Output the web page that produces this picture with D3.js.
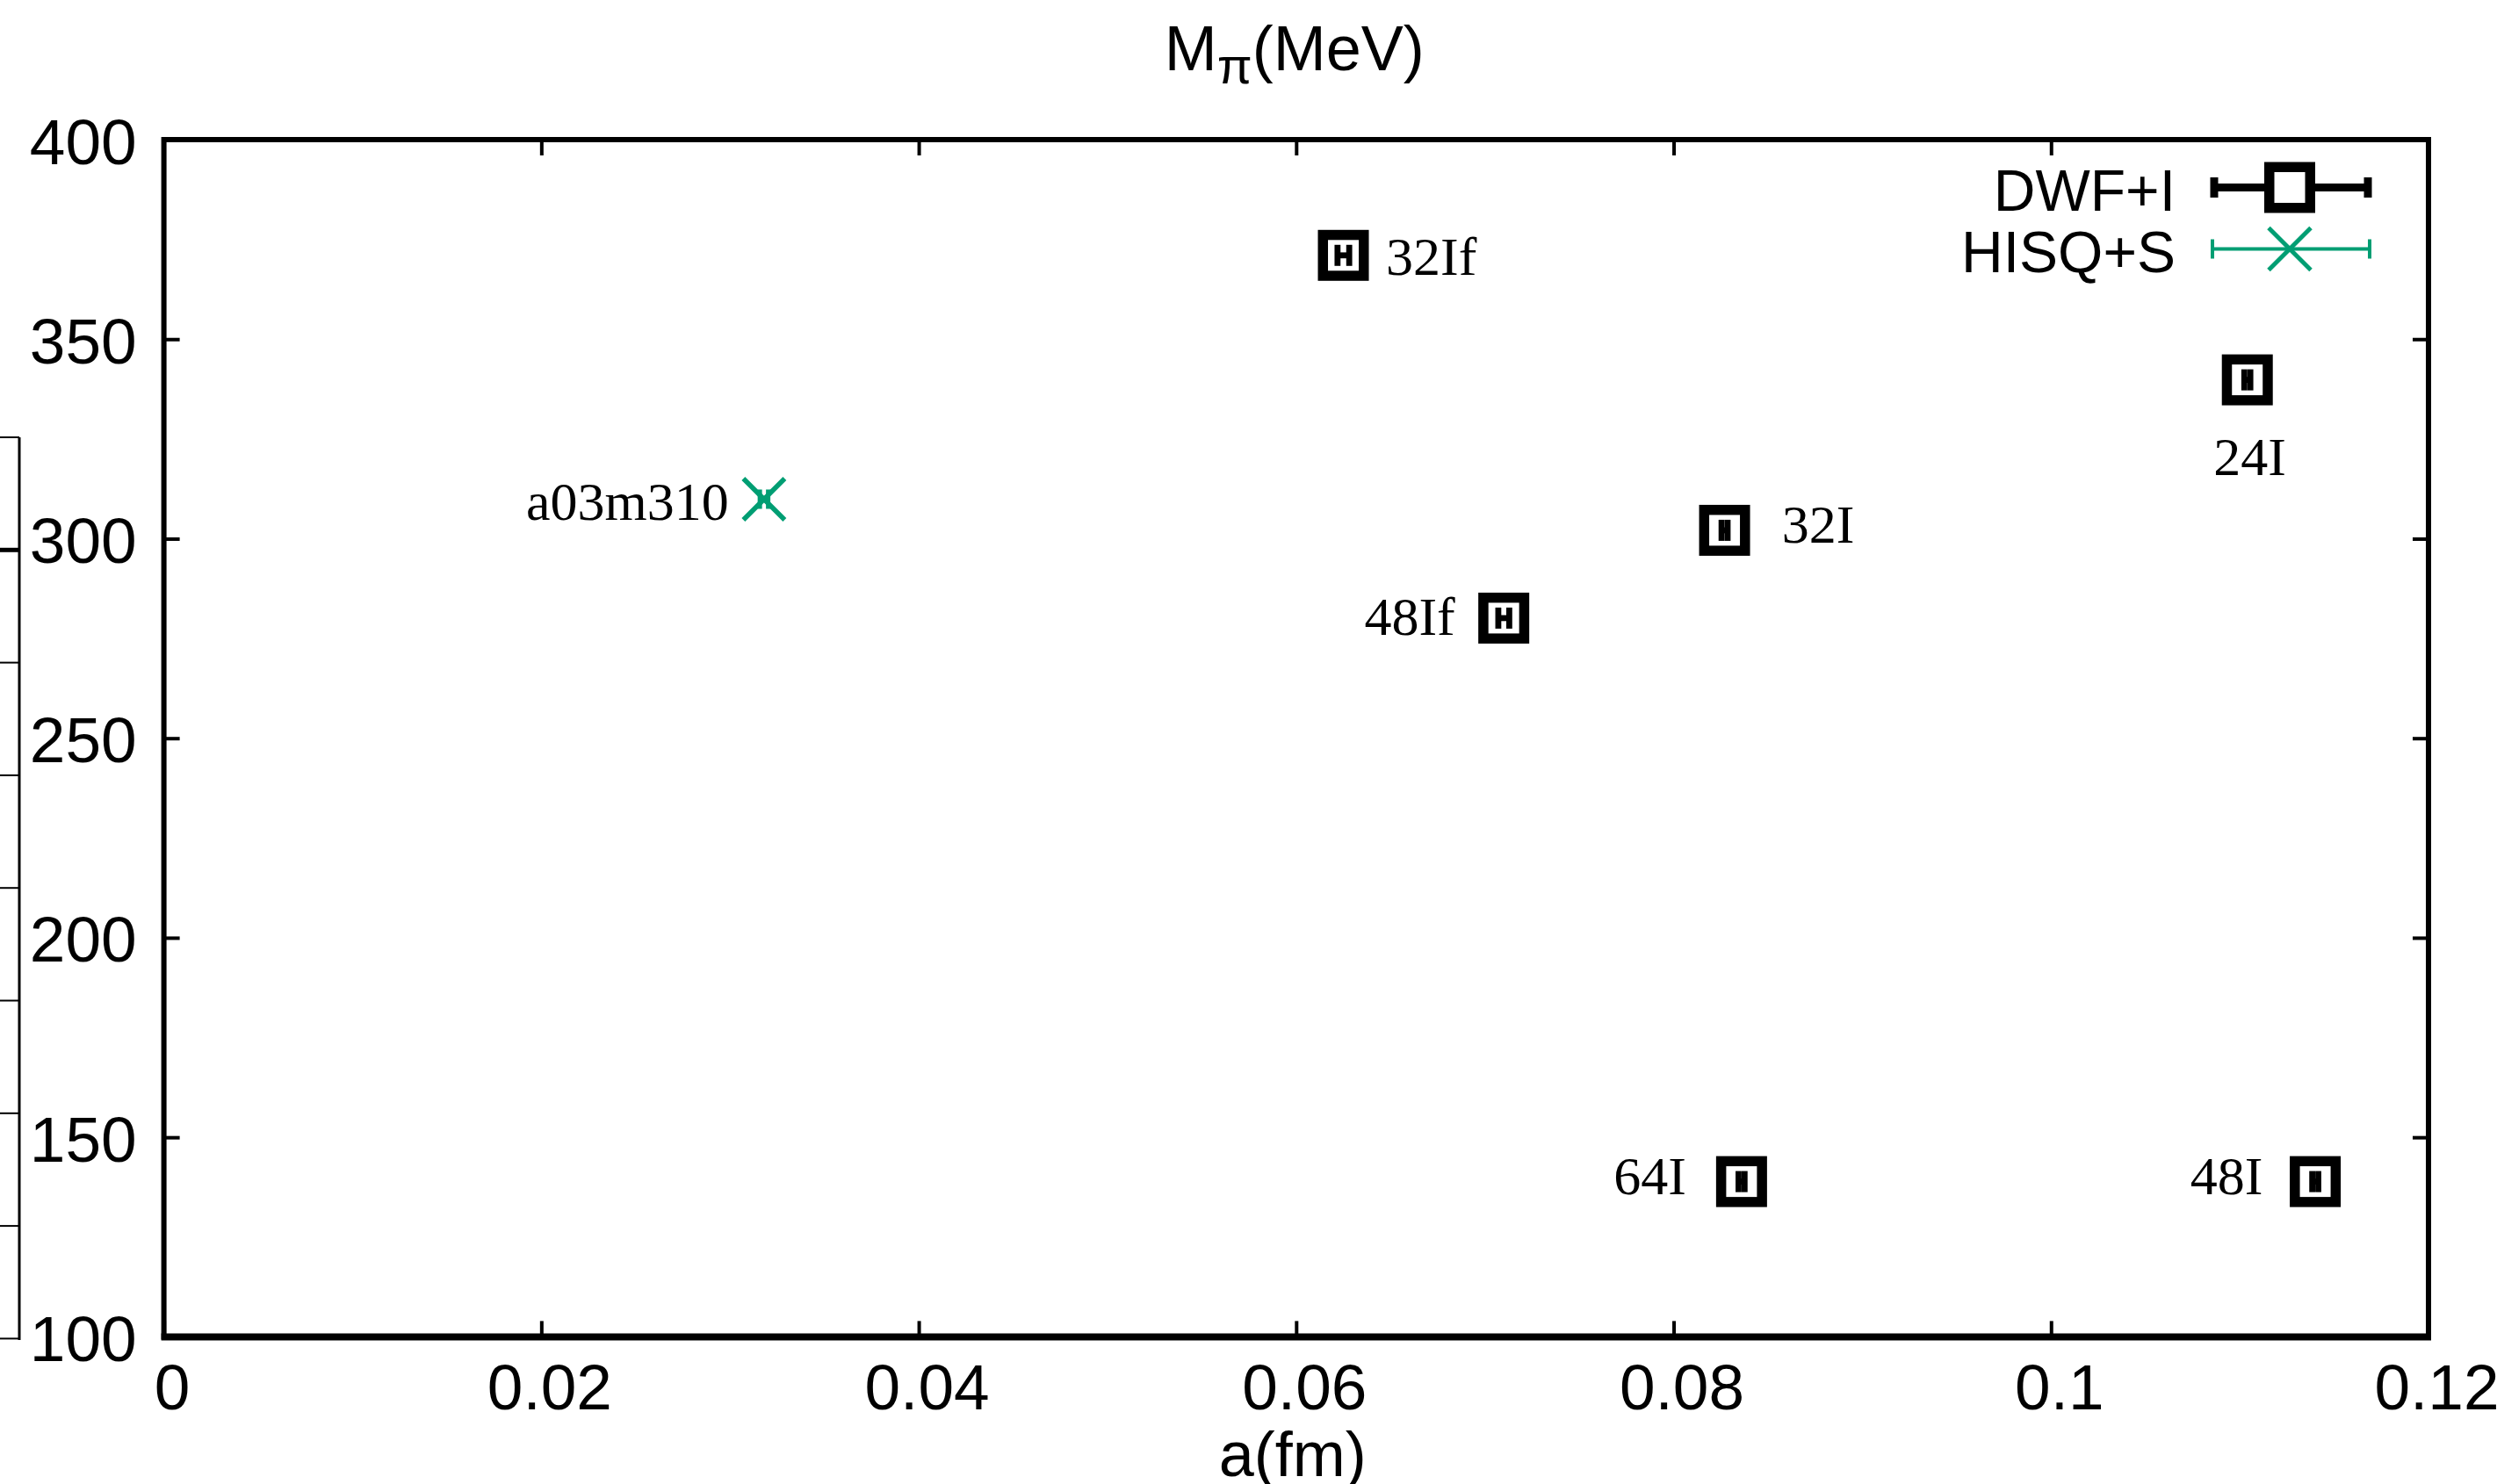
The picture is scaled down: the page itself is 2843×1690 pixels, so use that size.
<!DOCTYPE html>
<html>
<head>
<meta charset="utf-8">
<script src="https://cdn.jsdelivr.net/npm/d3@7"></script>
<style>
  html, body { margin: 0; padding: 0; background: #fff; }
  svg { display: block; }
</style>
</head>
<body>
<script>
// ---------- data ----------
const dwfNames = ["32If", "48If", "32I", "24I", "64I", "48I"];
const dwfA     = [0.0625, 0.0710, 0.0827, 0.1104, 0.0836, 0.1140];
const dwfM     = [371.0, 280.1, 302.1, 339.8, 138.9, 138.9];
const dwfAErr  = [0.00031, 0.00029, 0.00016, 0.00016, 0.00016, 0.00016];

const hisqNames = ["a03m310"];
const hisqA     = [0.0318];
const hisqM     = [309.9];
const hisqAErr  = [0.00022];

// label anchor points (data coordinates, baseline) and alignment
const labelText   = ["32If", "48If", "32I", "24I", "64I", "48I", "a03m310"];
const labelA      = [0.06476, 0.06842, 0.08574, 0.11053, 0.08067, 0.11122, 0.02993];
const labelM      = [366.1, 275.8, 298.9, 316.0, 135.7, 135.7, 304.8];
const labelAlign  = ["start", "end", "start", "middle", "end", "end", "end"];

const xTicks = [0, 0.02, 0.04, 0.06, 0.08, 0.1, 0.12];
const xTickLabels = ["0", "0.02", "0.04", "0.06", "0.08", "0.1", "0.12"];
const yTicks = [100, 150, 200, 250, 300, 350, 400];
const yTickLabels = ["100", "150", "200", "250", "300", "350", "400"];

const seriesNames = ["DWF+I", "HISQ+S"];
const seriesColors = ["#000000", "#009e73"];

// ---------- layout ----------
const W = 2843, H = 1690;
const L = 186.6, R = 2765, T = 159, B = 1522.4;
const SANS = "'Liberation Sans', Arial, sans-serif";
const SERIF = "'Liberation Serif', 'Times New Roman', serif";

const svg = d3.select("body").append("svg")
  .attr("width", W).attr("height", H)
  .attr("viewBox", `0 0 ${W} ${H}`);

svg.append("rect").attr("width", W).attr("height", H).attr("fill", "#fff");

const x = d3.scaleLinear().domain([0, 0.12]).range([L, R]);
const y = d3.scaleLinear().domain([100, 400]).range([B, T]);

// ---------- cropped neighbour artifact on the far left ----------
const art = svg.append("g").attr("stroke", "#000");
art.append("line").attr("x1", 22).attr("x2", 22).attr("y1", 498).attr("y2", 1526).attr("stroke-width", 3);
d3.range(9).forEach(k => {
  const yy = 498 + k * 128.3;
  art.append("line").attr("x1", 0).attr("x2", 22).attr("y1", yy).attr("y2", yy)
    .attr("stroke-width", k === 1 ? 5 : 2);
});

// ---------- axes ----------
const tickLen = 18;
function styleAxis(g, showLabels) {
  g.select(".domain").remove();
  g.selectAll(".tick line").attr("stroke", "#000").attr("stroke-width", 4);
  g.selectAll(".tick text").attr("fill", "#000").attr("font-family", SANS).attr("font-size", 73);
  if (!showLabels) g.selectAll(".tick text").remove();
}

const gx = svg.append("g").attr("transform", `translate(0,${B})`)
  .call(d3.axisBottom(x).tickValues(xTicks).tickFormat((d, i) => xTickLabels[i])
    .tickSizeInner(-tickLen).tickSizeOuter(0).tickPadding(31));
styleAxis(gx, true);
gx.selectAll(".tick text").attr("dx", 9);

const gxt = svg.append("g").attr("transform", `translate(0,${T})`)
  .call(d3.axisTop(x).tickValues(xTicks.slice(1, -1)).tickSizeInner(-tickLen).tickSizeOuter(0));
styleAxis(gxt, false);

const gy = svg.append("g").attr("transform", `translate(${L},0)`)
  .call(d3.axisLeft(y).tickValues(yTicks).tickFormat((d, i) => yTickLabels[i])
    .tickSizeInner(-tickLen).tickSizeOuter(0).tickPadding(31));
styleAxis(gy, true);
gy.selectAll(".tick text").attr("dy", "0.37em");
gy.selectAll(".tick").filter(d => d === 100 || d === 400).select("line").remove();

const gyr = svg.append("g").attr("transform", `translate(${R},0)`)
  .call(d3.axisRight(y).tickValues(yTicks.slice(1, -1)).tickSizeInner(-tickLen).tickSizeOuter(0));
styleAxis(gyr, false);

// border
svg.append("rect").attr("x", L).attr("y", T).attr("width", R - L).attr("height", B - T)
  .attr("fill", "none").attr("stroke", "#000").attr("stroke-width", 6);
svg.append("line").attr("x1", L - 3).attr("x2", R + 3).attr("y1", B).attr("y2", B)
  .attr("stroke", "#000").attr("stroke-width", 8);

// titles
const title = svg.append("text").attr("x", (L + R) / 2 - 2).attr("y", 80)
  .attr("text-anchor", "middle").attr("font-family", SANS).attr("font-size", 72).attr("fill", "#000");
title.append("tspan").text("M");
title.append("tspan").attr("font-size", 58).attr("dy", 15).text("π");
title.append("tspan").attr("dy", -15).text("(MeV)");

svg.append("text").attr("x", (L + R) / 2 - 4).attr("y", 1681)
  .attr("text-anchor", "middle").attr("font-family", SANS).attr("font-size", 72)
  .attr("fill", "#000").text("a(fm)");

// ---------- marks ----------
const sq = 46.5, sqStroke = 11.5, capH = 24, ebStroke = 6.8;

function drawXErr(g, cx, cy, x0, x1, color, sw, ch) {
  g.append("line").attr("x1", x0).attr("x2", x1).attr("y1", cy).attr("y2", cy)
    .attr("stroke", color).attr("stroke-width", sw);
  [x0, x1].forEach(xx => g.append("line").attr("x1", xx).attr("x2", xx)
    .attr("y1", cy - ch / 2).attr("y2", cy + ch / 2)
    .attr("stroke", color).attr("stroke-width", sw));
}

function drawSquare(g, cx, cy) {
  g.append("rect").attr("x", cx - sq / 2).attr("y", cy - sq / 2)
    .attr("width", sq).attr("height", sq)
    .attr("fill", "#fff").attr("stroke", "#000").attr("stroke-width", sqStroke);
}

function drawCross(g, cx, cy, s, color, sw) {
  g.append("line").attr("x1", cx - s / 2).attr("x2", cx + s / 2).attr("y1", cy - s / 2).attr("y2", cy + s / 2)
    .attr("stroke", color).attr("stroke-width", sw);
  g.append("line").attr("x1", cx - s / 2).attr("x2", cx + s / 2).attr("y1", cy + s / 2).attr("y2", cy - s / 2)
    .attr("stroke", color).attr("stroke-width", sw);
}

const marks = svg.append("g");
dwfA.forEach((a, i) => {
  const g = marks.append("g").attr("class", "dwf").attr("data-name", dwfNames[i]);
  const cx = x(a), cy = y(dwfM[i]);
  drawSquare(g, cx, cy);
  drawXErr(g, cx, cy, x(a - dwfAErr[i]), x(a + dwfAErr[i]), seriesColors[0], ebStroke, capH);
});

hisqA.forEach((a, i) => {
  const g = marks.append("g").attr("class", "hisq").attr("data-name", hisqNames[i]);
  const cx = x(a), cy = y(hisqM[i]);
  drawCross(g, cx, cy, 47, seriesColors[1], 5.5);
  drawXErr(g, cx, cy, x(a - hisqAErr[i]), x(a + hisqAErr[i]), seriesColors[1], 5, 22);
});

// point labels
labelText.forEach((t, i) => {
  svg.append("text").attr("x", x(labelA[i])).attr("y", y(labelM[i]))
    .attr("text-anchor", labelAlign[i]).attr("font-family", SERIF).attr("font-size", 62)
    .attr("fill", "#000").text(t);
});

// ---------- legend ----------
const leg = svg.append("g");
const legTextX = 2477, legX0 = 2517, legX1 = 2700, legMid = 2607;
const legY = [213.5, 283.5];
seriesNames.forEach((name, i) => {
  leg.append("text").attr("x", legTextX).attr("y", legY[i] + 26.5)
    .attr("text-anchor", "end").attr("font-family", SANS).attr("font-size", 66)
    .attr("fill", "#000").text(name);
});
// DWF+I sample
drawXErr(leg, legMid, legY[0], legX0 + 4, legX1 - 4, seriesColors[0], 9, 23);
drawSquare(leg, legMid, legY[0]);
// HISQ+S sample
drawXErr(leg, legMid, legY[1], legX0 + 2, legX1 - 2, seriesColors[1], 4, 22);
drawCross(leg, legMid, legY[1], 48, seriesColors[1], 5);
</script>
</body>
</html>
